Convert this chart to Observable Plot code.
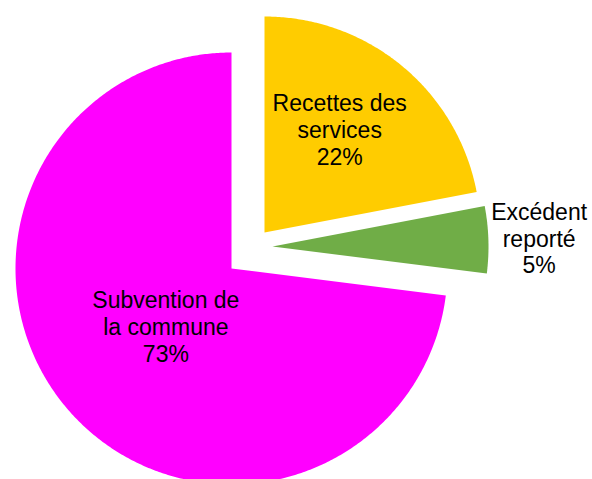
<!DOCTYPE html>
<html><head><meta charset="utf-8">
<script src="https://cdn.jsdelivr.net/npm/d3@7"></script>
<script src="https://cdn.jsdelivr.net/npm/@observablehq/plot@0.6"></script>
<style>body{margin:0;background:#fff;}</style>
</head><body><div id="chart"></div>
<script>
const categories = ["Recettes des\nservices", "Excédent\nreporté", "Subvention de\nla commune"];
const values = [22, 5, 73];
const colors = ["#FFCC00", "#70AD47", "#FF00FF"];

// layout (pixels)
const W = 592, H = 479, CX = 231, CY = 268, R = 216;
const explodePx = [[33, 36], [41, 22], [0, 0]]; // right, up
const labelRadius = [0.59, 1.235, 0.405];
const labelAngleShift = [-0.06, 0, 0]; // radians

const total = d3.sum(values);
let acc = 0;
const slices = values.map((v, i) => {
  const a0 = acc / total * 2 * Math.PI; acc += v;
  const a1 = acc / total * 2 * Math.PI;
  const ox = explodePx[i][0] / R, oy = explodePx[i][1] / R;
  const am = (a0 + a1) / 2 + labelAngleShift[i];
  return {i, name: categories[i], value: v, a0, a1, ox, oy,
    lx: ox + labelRadius[i] * Math.sin(am), ly: oy + labelRadius[i] * Math.cos(am),
    label: categories[i] + "\n" + v + "%"};
});
const pts = [];
for (const s of slices) {
  pts.push({name: s.name, x: s.ox, y: s.oy});
  const n = Math.ceil((s.a1 - s.a0) / (Math.PI / 360));
  for (let k = 0; k <= n; k++) {
    const a = s.a0 + (s.a1 - s.a0) * k / n;
    pts.push({name: s.name, x: s.ox + Math.sin(a), y: s.oy + Math.cos(a)});
  }
}

const chart = Plot.plot({
  width: W, height: H, margin: 0,
  style: {fontFamily: "'Liberation Sans', Arial, sans-serif", background: "#fff"},
  x: {domain: [-CX / R, (W - CX) / R], axis: null},
  y: {domain: [-(H - CY) / R, CY / R], axis: null},
  color: {domain: categories, range: colors},
  marks: [
    Plot.line(pts, {x: "x", y: "y", z: "name", fill: "name", stroke: "none", curve: "linear-closed", clip: true}),
    Plot.text(slices, {x: "lx", y: "ly", text: "label", fontSize: 23, lineHeight: 1.16, fill: "black", textAnchor: "middle"})
  ]
});
document.getElementById("chart").appendChild(chart);
</script>
</body></html>
